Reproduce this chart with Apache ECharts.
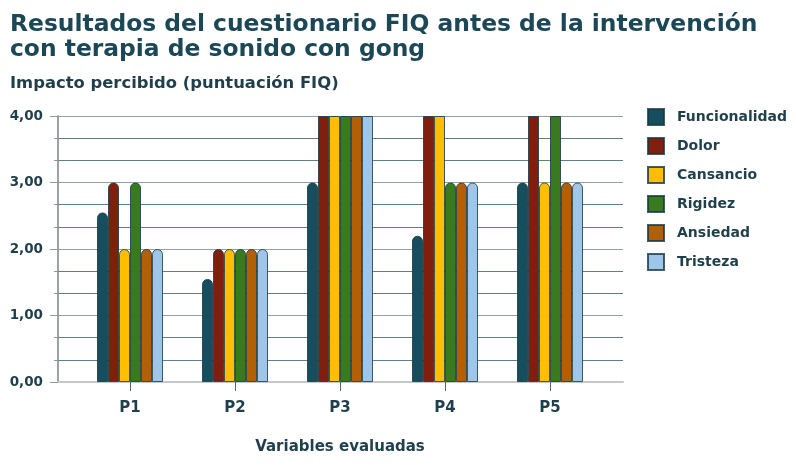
<!DOCTYPE html>
<html>
<head>
<meta charset="utf-8">
<script src="https://cdn.jsdelivr.net/npm/echarts@6/dist/echarts.min.js"></script>
<style>html,body{margin:0;padding:0;background:#fff}#c{width:796px;height:476px}</style>
</head>
<body>
<div id="c"></div>
<script>
const categories = ['P1', 'P2', 'P3', 'P4', 'P5'];
const seriesNames = ['Funcionalidad', 'Dolor', 'Cansancio', 'Rigidez', 'Ansiedad', 'Tristeza'];
const funcionalidad = [2.55, 1.55, 3, 2.2, 3];
const dolor = [3, 2, 4, 4, 4];
const cansancio = [2, 2, 4, 4, 3];
const rigidez = [3, 2, 4, 3, 4];
const ansiedad = [2, 2, 4, 3, 3];
const tristeza = [2, 2, 4, 3, 3];
const yTicks = [0, 1, 2, 3, 4];
const colors = ['#164e5e', '#801f0e', '#ffbf00', '#3a7a1f', '#b35f06', '#9fc5e8'];

const allValues = [funcionalidad, dolor, cansancio, rigidez, ansiedad, tristeza];
const yMax = yTicks[yTicks.length - 1];
const font = '"DejaVu Sans", Verdana, sans-serif';
const textColor = '#1e3f4b';

const chart = echarts.init(document.getElementById('c'));
chart.setOption({
  animation: false,
  color: colors,
  title: [
    {
      text: 'Resultados del cuestionario FIQ antes de la intervención\ncon terapia de sonido con gong',
      left: 5, top: 7,
      textStyle: { fontFamily: font, fontSize: 23.4, fontWeight: 'bold', color: '#1b4756', lineHeight: 25 }
    },
    {
      text: 'Impacto percibido (puntuación FIQ)',
      left: 5, top: 71,
      textStyle: { fontFamily: font, fontSize: 16.4, fontWeight: 'bold', color: textColor }
    }
  ],
  legend: {
    orient: 'vertical',
    left: 642, top: 103,
    itemWidth: 16, itemHeight: 16, itemGap: 11,
    icon: 'rect',
    data: seriesNames,
    textStyle: { fontFamily: font, fontSize: 14, fontWeight: 'bold', color: textColor, padding: [0, 0, 0, 8] }
  },
  grid: [
    { left: 58, right: 173, top: 116, bottom: 94 },
    { left: 77.5, right: 193.5, top: 116, bottom: 94 }
  ],
  xAxis: [
    {
      gridIndex: 0, type: 'category', data: [''],
      axisLine: { show: true, lineStyle: { color: '#c3c8cb', width: 2 } },
      axisTick: { show: false }, axisLabel: { show: false }, splitLine: { show: false }
    },
    {
      gridIndex: 1, type: 'category', data: categories,
      axisLine: { show: false },
      axisTick: { show: true, alignWithLabel: true, length: 9, lineStyle: { color: '#4d6b77' } },
      axisLabel: { fontFamily: font, fontSize: 15, fontWeight: 'bold', color: textColor, margin: 19 },
      name: 'Variables evaluadas', nameLocation: 'middle', nameGap: 58,
      nameTextStyle: { fontFamily: font, fontSize: 15, fontWeight: 'bold', color: textColor }
    }
  ],
  yAxis: [
    {
      gridIndex: 0, type: 'value', min: 0, max: yMax, interval: 1,
      axisLine: { show: true, lineStyle: { color: '#7d8386', width: 1.5 } },
      axisTick: { show: true, length: 8, lineStyle: { color: '#8a9aa1' } },
      minorTick: { show: true, splitNumber: 3, length: 4, lineStyle: { color: '#8a9aa1' } },
      splitLine: { show: true, lineStyle: { color: '#8fa1a9', width: 1.2 } },
      minorSplitLine: { show: true, lineStyle: { color: '#5f7f8b', width: 1.2 } },
      axisLabel: {
        fontFamily: font, fontSize: 13.5, fontWeight: 'bold', color: textColor, margin: 15,
        formatter: v => v.toFixed(2).replace('.', ',')
      }
    },
    { gridIndex: 1, type: 'value', min: 0, max: yMax, show: false, splitLine: { show: false } }
  ],
  series: seriesNames.map((name, i) => ({
    name: name,
    type: 'bar',
    xAxisIndex: 1, yAxisIndex: 1,
    barWidth: 11, barGap: '0%',
    itemStyle: { borderColor: 'rgba(20,55,65,0.8)', borderWidth: 1 },
    data: allValues[i].map(v => ({
      value: v,
      itemStyle: { borderRadius: v >= yMax ? 0 : [5, 5, 0, 0] }
    }))
  }))
});
</script>
</body>
</html>
